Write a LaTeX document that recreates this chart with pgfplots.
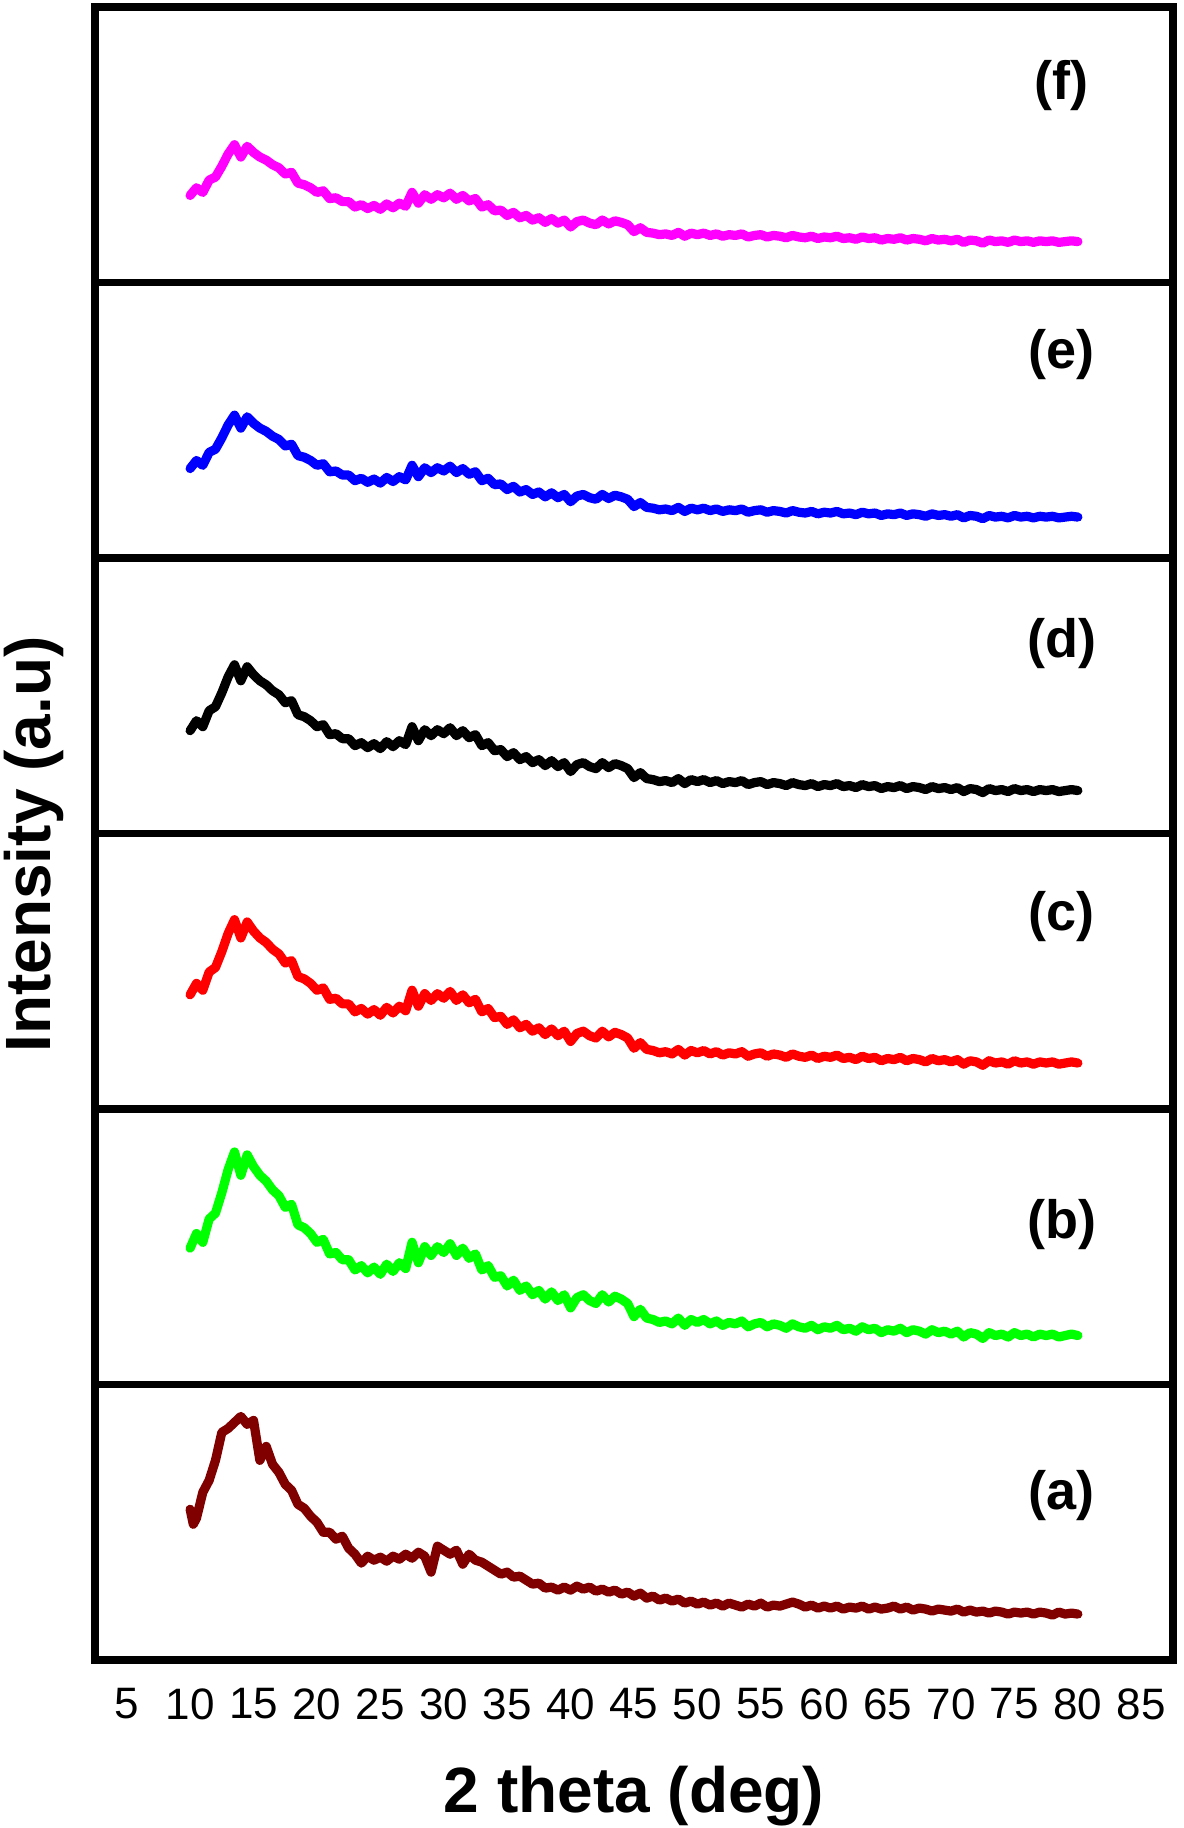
\documentclass[border=0pt]{standalone}
\usepackage{fontspec}
\setmainfont{Liberation Sans}
\usepackage{pgfplots}
\usepackage{pgfplotstable}
\pgfplotsset{compat=1.18}

% shared shape of curves (b)-(f) (height above background, px units of panel (d))
\pgfplotstableread{
x h
10.0 60
10.5 70
11.0 64
11.5 80
12.0 84
12.5 98
13.0 114
13.5 126
14.0 110
14.5 124
15.0 116
15.5 110
16.0 106
16.5 100
17.0 96
17.5 88
18.0 90
18.5 76
19.0 74
19.5 70
20.0 64
20.5 66
21.0 56
21.5 57
22.0 52
22.5 52
23.0 45
23.5 48
24.0 43
24.5 47
25.0 42
25.5 49
26.0 44
26.5 50
27.0 46
27.5 64
28.0 50
28.5 61
29.0 55
29.5 61
30.0 57
30.5 63
31.0 55
31.5 60
32.0 53
32.5 56
33.0 45
33.5 48
34.0 40
34.5 41
35.0 34
35.5 38
36.0 31
36.5 34
37.0 28
37.5 31
38.0 25
38.5 30
39.0 24
39.5 28
40.0 19
40.5 26
41.0 28
41.5 24
42.0 22
42.5 28
43.0 23
43.5 27
44.0 25
44.5 22
45.0 13
45.5 18
46.0 12
46.5 11
47.0 9
47.5 10
48.0 8
48.5 12
49.0 7
49.5 11
50.0 9
50.5 11
51.0 8
51.5 10
52.0 7
52.5 9
53.0 8
53.5 10
54.0 6
54.5 8
55.0 9
55.5 6
56.0 8
56.5 7
57.0 5
57.5 8
58.0 6
58.5 5
59.0 7
59.5 4
60.0 6
60.5 5
61.0 7
61.5 4
62.0 5
62.5 3
63.0 6
63.5 4
64.0 5
64.5 2
65.0 4
65.5 3
66.0 5
66.5 2
67.0 4
67.5 3
68.0 1
68.5 4
69.0 2
69.5 3
70.0 1
70.5 3
71.0 -1
71.5 2
72.0 1
72.5 -2
73.0 2
73.5 0
74.0 1
74.5 -1
75.0 2
75.5 0
76.0 1
76.5 -1
77.0 1
77.5 0
78.0 1
78.5 -1
79.0 0
79.5 1
80.0 0
}\shapetable

% curve (a)
\pgfplotstableread{
x y
10.0 151
10.25 136
10.5 142
11.0 168
11.5 180
12.0 200
12.5 228
13.0 232
13.5 238
14.0 244
14.5 236
15.0 240
15.5 200
16.0 214
16.5 196
17.0 188
17.5 176
18.0 170
18.5 156
19.0 152
19.5 144
20.0 138
20.5 128
21.0 128
21.5 121
22.0 124
22.5 112
23.0 106
23.5 97
24.0 104
24.5 100
25.0 103
25.5 99
26.0 104
26.5 101
27.0 106
27.5 102
28.0 108
28.5 104
29.0 88
29.5 114
30.0 110
30.5 106
31.0 110
31.5 96
32.0 106
32.5 100
33.0 98
33.5 94
34.0 90
34.5 86
35.0 88
35.5 83
36.0 84
36.5 80
37.0 76
37.5 77
38.0 72
38.5 73
39.0 70
39.5 73
40.0 70
40.5 74
41.0 71
41.5 73
42.0 69
42.5 71
43.0 68
43.5 70
44.0 66
44.5 68
45.0 64
45.5 67
46.0 62
46.5 64
47.0 60
47.5 62
48.0 59
48.5 61
49.0 57
49.5 59
50.0 56
50.5 58
51.0 55
51.5 57
52.0 54
52.5 57
53.0 55
53.5 53
54.0 56
54.5 54
55.0 57
55.5 53
56.0 55
56.5 54
57.0 56
57.5 58
58.0 56
58.5 53
59.0 55
59.5 52
60.0 54
60.5 52
61.0 54
61.5 51
62.0 53
62.5 52
63.0 54
63.5 51
64.0 53
64.5 51
65.0 52
65.5 54
66.0 51
66.5 53
67.0 50
67.5 52
68.0 51
68.5 49
69.0 51
69.5 50
70.0 49
70.5 51
71.0 48
71.5 50
72.0 48
72.5 49
73.0 47
73.5 49
74.0 48
74.5 46
75.0 48
75.5 47
76.0 48
76.5 46
77.0 48
77.5 47
78.0 45
78.5 48
79.0 46
79.5 47
80.0 46
}\atable

\definecolor{cA}{RGB}{128,0,0}
\definecolor{cB}{RGB}{0,255,0}
\definecolor{cC}{RGB}{255,0,0}
\definecolor{cD}{RGB}{0,0,0}
\definecolor{cE}{RGB}{0,0,255}
\definecolor{cF}{RGB}{255,0,255}

\pgfplotsset{
  panel/.style={
    scale only axis,
    width=539pt, height=137.75pt,
    xmin=2.5, xmax=87.5,
    ytick=\empty,
    xtick=\empty,
    axis line style={line width=3.6pt, line cap=rect},
    clip=false,
  },
}
\tikzset{
  curve/.style={line width=4.6pt, line join=round, line cap=round},
  plab/.style={font=\bfseries\fontsize{27}{30}\selectfont, inner sep=0pt},
}

\begin{document}
\begin{tikzpicture}
\useasboundingbox (-47.5pt,-84pt) rectangle (544.5pt,830pt);

% (a)
\begin{axis}[panel, at={(0pt,0pt)}, anchor=south west,
  ymin=0, ymax=276,
  xtick={5,10,...,85},
  major tick length=0pt,
  /pgf/number format/assume math mode=true,
  xticklabel style={font=\fontsize{22}{26}\selectfont, inner sep=0pt, anchor=north, yshift=-14pt},
  xlabel={\bfseries 2 theta (deg)},
  xlabel style={font=\fontsize{32}{36}\selectfont, at={(axis description cs:0.5,0)}, anchor=base, inner sep=0pt, yshift=-76pt},
  ylabel={\bfseries Intensity (a.u)},
  ylabel style={font=\fontsize{32}{36}\selectfont, at={(axis description cs:-0.0417,2.96)}, anchor=base, inner sep=0pt},
]
\addplot[curve, color=cA] table[x=x, y=y] {\atable};
\node[plab] at (rel axis cs:0.897,0.598) {(a)};
\end{axis}

% (b)
\begin{axis}[panel, at={(0pt,137.75pt)}, anchor=south west, ymin=-33.6, ymax=155.5]
\addplot[curve, color=cB] table[x=x, y=h] {\shapetable};
\node[plab] at (rel axis cs:0.897,0.58) {(b)};
\end{axis}

% (c)
\begin{axis}[panel, at={(0pt,275.5pt)}, anchor=south west, ymin=-40.4, ymax=201.8]
\addplot[curve, color=cC] table[x=x, y=h] {\shapetable};
\node[plab] at (rel axis cs:0.897,0.70) {(c)};
\end{axis}

% (d)
\begin{axis}[panel, at={(0pt,413.25pt)}, anchor=south west, ymin=-43, ymax=233]
\addplot[curve, color=cD] table[x=x, y=h] {\shapetable};
\node[plab] at (rel axis cs:0.897,0.69) {(d)};
\end{axis}

% (e)
\begin{axis}[panel, at={(0pt,551pt)}, anchor=south west, ymin=-50.6, ymax=290.1]
\addplot[curve, color=cE] table[x=x, y=h] {\shapetable};
\node[plab] at (rel axis cs:0.897,0.739) {(e)};
\end{axis}

% (f)
\begin{axis}[panel, at={(0pt,688.75pt)}, anchor=south west, ymin=-53.2, ymax=305.2]
\addplot[curve, color=cF] table[x=x, y=h] {\shapetable};
\node[plab] at (rel axis cs:0.897,0.714) {(f)};
\end{axis}
\end{tikzpicture}
\end{document}
